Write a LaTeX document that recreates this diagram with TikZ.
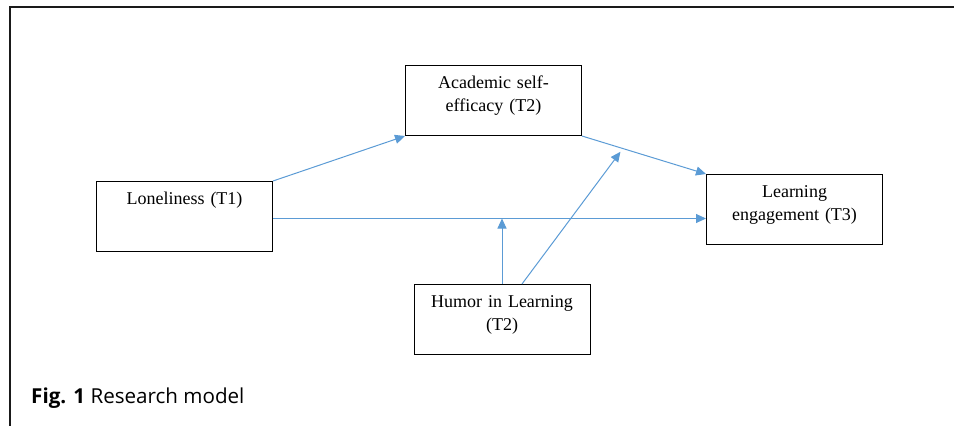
\documentclass[tikz,border=0pt]{standalone}
\usepackage{fontspec}
\setmainfont{Liberation Serif}
\newfontfamily\captionfont{Open Sans}
\usepackage{xcolor}
\usepackage{tikz}
\usetikzlibrary{positioning, arrows.meta, calc}
\definecolor{lineblue}{RGB}{91,155,213}
\definecolor{framegray}{RGB}{26,26,26}
\tikzstyle{varbox} = [rectangle, minimum width=176pt, minimum height=70pt, text width=160pt, inner xsep=8pt, inner ysep=6pt, text height=17pt, text depth=41pt, align=center, draw=black, line width=1pt, font=\fontsize{18}{23}\selectfont]
\tikzstyle{arrow} = [line width=1pt, draw=lineblue, -{Triangle[length=10pt,width=9pt]}]
\tikzstyle{figframe} = [line width=2pt, draw=framegray]

\begin{document}
\begin{tikzpicture}[x=1pt, y=1pt]

        \useasboundingbox (0,0) rectangle (954,-426);

        % Frame
        \draw [figframe] (9.5,-426) -- (9.5,-6.5) -- (954,-6.5);

        % Nodes
        \node (lonely) [varbox] at (184.5,-216.5) {Loneliness (T1)};
        \node (selfeff) [varbox, above right=45pt and 132pt of lonely] {Academic self-\\efficacy (T2)};
        \node (engage) [varbox, below right=38pt and 124pt of selfeff] {Learning\\engagement (T3)};
        \node (humor) [varbox, below right=32pt and 140.5pt of lonely] {Humor in Learning\\(T2)};
        \node (caption) [anchor=base west, inner sep=0pt, font=\captionfont\fontsize{20.6}{25}\selectfont] at (31,-403) {\textbf{Fig. 1} Research model};
        \coordinate (direct) at ([yshift=-2pt]lonely.east);
        \coordinate (modpoint) at ($(selfeff.south east)!0.31!(engage.north west)+(0,-4)$);

        % Arrows
        \draw [arrow] (lonely.north east) -- (selfeff.south west);
        \draw [arrow] (selfeff.south east) -- (engage.north west);
        \draw [arrow] (direct) -- (direct -| engage.west);
        \draw [arrow] (humor.north) -- (humor.north |- direct);
        \draw [arrow] ([xshift=20pt]humor.north) -- (modpoint);

    \end{tikzpicture}
\end{document}
